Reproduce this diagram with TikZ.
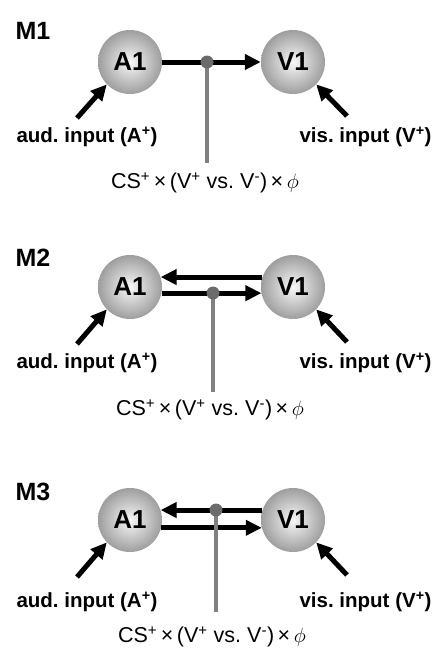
\documentclass[tikz,border=0pt]{standalone}
\usepackage{fontspec}
\setmainfont{Liberation Sans}
\usepackage{tikz}
\usetikzlibrary{calc, arrows.meta}

\tikzset{
    area/.style={circle, minimum size=64pt, inner sep=0pt, shade, inner color=black!3, outer color=black!38, font=\bfseries\fontsize{26}{26}\selectfont},
    link/.style={line width=5pt, -{Triangle[length=16pt,width=15pt]}},
    cue/.style={line width=4pt, black!50},
    gate/.style={circle, fill=black!58, minimum size=13pt, inner sep=0pt},
    model/.style={font=\bfseries\fontsize{25}{25}\selectfont, anchor=west},
    inlabel/.style={font=\bfseries\fontsize{20.5}{20.5}\selectfont},
    cslabel/.style={font=\fontsize{21.5}{21.5}\selectfont}
}
\newcommand{\cstext}{CS\textsuperscript{+}\,×\,(V\textsuperscript{+} vs.\ V\textsuperscript{-})\,×\,$\phi$}

\begin{document}
\frenchspacing
\begin{tikzpicture}[x=1pt, y=-1pt]
        \useasboundingbox (0,0) rectangle (434,651);

        % M1
        \node[model] (m1) at (12,31) {M1};
        \node[area] (a1) at (130,62) {A1};
        \node[area] (v1) at (293,62) {V1};
        \coordinate (atail1) at (77,118);
        \coordinate (vtail1) at (347,116);
        \coordinate (cend1) at (207,163);
        \draw[link] (a1) -- (v1);
        \draw[link] (atail1) -- (a1.224);
        \draw[link] (vtail1) -- (v1.316);
        \draw[cue] (207,62) -- (cend1);
        \node[gate] (g1) at (207,62) {};
        \node[inlabel, anchor=west] (ai1) at (13,137) {aud.\ input (A\textsuperscript{+})};
        \node[inlabel, anchor=east] (vi1) at (435,137) {vis.\ input (V\textsuperscript{+})};
        \node[cslabel] (cs1) at (205,183) {\cstext};

        % M2
        \node[model] (m2) at (12,258) {M2};
        \node[area] (a2) at (130,287) {A1};
        \node[area] (v2) at (293,287) {V1};
        \coordinate (atail2) at (77,344);
        \coordinate (vtail2) at (347,342);
        \coordinate (cend2) at (213,392);
        \draw[link] (v2.162) -- (a2.18);
        \draw[link] (a2.-11) -- (v2.191);
        \draw[link] (atail2) -- (a2.224);
        \draw[link] (vtail2) -- (v2.316);
        \draw[cue] (213,293) -- (cend2);
        \node[gate] (g2) at (213,293) {};
        \node[inlabel, anchor=west] (ai2) at (13,363) {aud.\ input (A\textsuperscript{+})};
        \node[inlabel, anchor=east] (vi2) at (435,363) {vis.\ input (V\textsuperscript{+})};
        \node[cslabel] (cs2) at (210,410) {\cstext};

        % M3
        \node[model] (m3) at (12,492) {M3};
        \node[area] (a3) at (130,520) {A1};
        \node[area] (v3) at (293,520) {V1};
        \coordinate (atail3) at (77,577);
        \coordinate (vtail3) at (347,575);
        \coordinate (cend3) at (216,612);
        \draw[link] (v3.162) -- (a3.18);
        \draw[link] (a3.-14) -- (v3.194);
        \draw[link] (atail3) -- (a3.224);
        \draw[link] (vtail3) -- (v3.316);
        \draw[cue] (216,510) -- (cend3);
        \node[gate] (g3) at (216,510) {};
        \node[inlabel, anchor=west] (ai3) at (13,602) {aud.\ input (A\textsuperscript{+})};
        \node[inlabel, anchor=east] (vi3) at (435,602) {vis.\ input (V\textsuperscript{+})};
        \node[cslabel] (cs3) at (212,637) {\cstext};
\end{tikzpicture}
\end{document}
